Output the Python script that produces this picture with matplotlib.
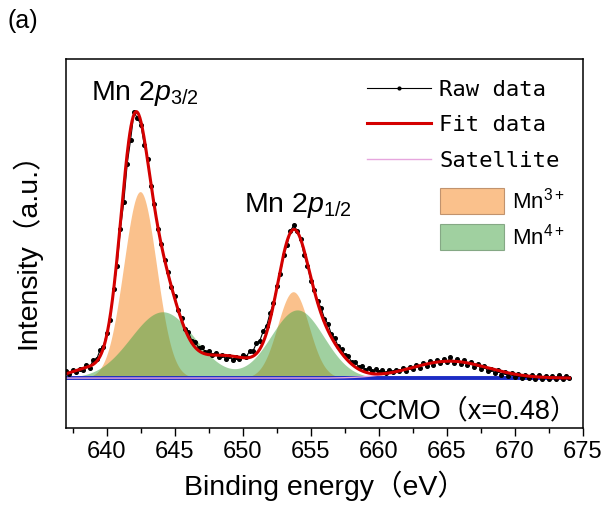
import numpy as np
import matplotlib
matplotlib.use("Agg")
import matplotlib.pyplot as plt
from matplotlib.lines import Line2D
from matplotlib.patches import Patch
from matplotlib.ticker import MultipleLocator

plt.rcParams['font.family'] = ['Liberation Sans', 'Noto Sans CJK JP']
plt.rcParams['mathtext.fontset'] = 'custom'
plt.rcParams['mathtext.rm'] = 'Liberation Sans'
plt.rcParams['mathtext.it'] = 'Liberation Sans:italic'

# raw spectrum, every 0.25 eV from 637.0 eV
energy_start = 637.0
energy_step = 0.25
raw_counts = [
    2.6, 1.4, 3.1, 2.2, 3.6, 3.0, 4.9, 4.0,            # 637
    6.9, 7.1, 10.6, 11.9, 17.2, 22.0, 33.6, 42.4,      # 639
    56.5, 66.8, 81.2, 90.3, 100.6, 98.4, 96.0, 88.3,   # 641
    83.1, 72.9, 66.0, 56.4, 50.8, 44.6, 40.3, 34.6,    # 643
    30.9, 25.6, 22.7, 18.6, 17.3, 14.1, 13.6, 11.5,    # 645
    11.8, 9.7, 10.4, 8.8, 9.6, 7.9, 8.7, 7.2,          # 647
    8.4, 6.8, 8.1, 7.1, 8.8, 8.1, 10.2, 10.3,          # 649
    13.2, 14.2, 17.8, 19.8, 24.7, 28.3, 34.9, 39.4,    # 651
    46.6, 50.5, 55.8, 57.9, 55.6, 52.5, 46.6, 42.6,    # 653
    36.7, 33.5, 29.0, 26.6, 22.5, 20.6, 16.6, 15.1,    # 655
    12.1, 11.0, 8.6, 8.3, 6.0, 6.2, 4.3, 4.7,          # 657
    3.1, 3.8, 2.6, 3.3, 2.2, 3.1, 2.0, 3.2,            # 659
    2.4, 3.2, 2.5, 3.8, 2.7, 4.2, 3.3, 4.9,            # 661
    3.9, 5.6, 4.5, 6.3, 5.1, 7.0, 5.6, 7.3,            # 663
    6.0, 7.8, 5.8, 7.1, 5.5, 6.7, 4.9, 6.0,            # 665
    4.1, 5.2, 3.4, 4.4, 2.6, 3.5, 1.8, 2.9,            # 667
    1.3, 2.3, 0.8, 1.9, 0.4, 1.6, 0.2, 1.3,            # 669
    0.0, 1.1, -0.3, 1.0, -0.4, 0.9, -0.5, 0.8,         # 671
    -0.4, 1.0, -0.3, 0.9, 0.2,                         # 673
]
energy = energy_start + energy_step * np.arange(len(raw_counts))

# fit envelope as gaussian terms (centre eV, height, sigma)
fit_centers = [639.0, 641.95, 643.7, 648.5, 653.6, 655.0, 665.2]
fit_heights = [4.0, 80.0, 40.0, 8.5, 40.0, 20.0, 6.4]
fit_sigmas = [1.5, 1.0, 1.4, 2.5, 1.1, 1.8, 2.8]

# components
mn3_centers = [642.45, 653.7]
mn3_heights = [70.6, 32.7]
mn3_sigmas = [1.2, 1.15]

mn4_centers = [644.1, 654.0]
mn4_heights = [25.1, 25.8]
mn4_sigmas = [2.35, 1.95]

sat_centers = [665.2]
sat_heights = [6.4]
sat_sigmas = [2.8]


def gauss_sum(x, centers, heights, sigmas):
    y = np.zeros_like(x)
    for c, h, s in zip(centers, heights, sigmas):
        y += h * np.exp(-0.5 * ((x - c) / s) ** 2)
    return y


xf = np.linspace(energy[0], energy[-1], 900)
fit = gauss_sum(xf, fit_centers, fit_heights, fit_sigmas)
mn3 = gauss_sum(xf, mn3_centers, mn3_heights, mn3_sigmas)
mn4 = gauss_sum(xf, mn4_centers, mn4_heights, mn4_sigmas)
sat = gauss_sum(xf, sat_centers, sat_heights, sat_sigmas)

orange = (0.97, 0.56, 0.18, 0.55)
green = (0.26, 0.64, 0.26, 0.5)
red = '#d40000'
blue = '#1c2bc4'
pink = '#e6a6de'

fig = plt.figure(figsize=(6.07, 5.2), dpi=100)
ax = fig.add_axes([66 / 607, 1 - 428 / 520, 517 / 607, 369 / 520])

ax.fill_between(xf, mn3, color=orange, lw=0)
ax.fill_between(xf, mn4, color=green, lw=0)
ax.plot(energy, np.zeros_like(energy), color=blue, lw=2.8)
ax.plot(xf, sat, color=pink, lw=1)
ax.plot(energy, raw_counts, color='k', lw=0.8, marker='o', ms=2.6)
ax.plot(xf, fit, color=red, lw=2.2)

ax.set_xlim(637, 675)
ax.set_ylim(-18.9, 120.8)
ax.set_yticks([])
ax.set_xticks(np.arange(640, 676, 5))
ax.xaxis.set_minor_locator(MultipleLocator(2.5))
ax.tick_params(axis='x', which='major', direction='out', length=6, width=1,
               labelsize=17, pad=3)
ax.tick_params(axis='x', which='minor', direction='out', length=3.5, width=1)
for sp in ax.spines.values():
    sp.set_linewidth(1.1)

ax.set_xlabel('Binding energy（eV）', fontsize=20.5, labelpad=6)
ax.set_ylabel('Intensity（a.u.）', fontsize=20.5, labelpad=18)

ax.text(638.85, 105.3, r'Mn 2$p_{3/2}$', fontsize=20.5, va='baseline')
ax.text(650.05, 62.9, r'Mn 2$p_{1/2}$', fontsize=20.5, va='baseline')
ax.text(0.99, 0.027, 'CCMO（x=0.48）', transform=ax.transAxes,
        fontsize=19.5, ha='right', va='baseline')
fig.text(0.013, 0.982, '(a)', fontsize=18, va='top')

line_handles = [
    Line2D([], [], color='k', lw=0.8, marker='o', ms=2),
    Line2D([], [], color=red, lw=2.2),
    Line2D([], [], color=pink, lw=1),
]
leg1 = ax.legend(line_handles, ['Raw data', 'Fit data', 'Satellite'],
                 loc='upper left', bbox_to_anchor=(0.582, 0.944),
                 frameon=False, prop={'family': 'DejaVu Sans Mono', 'size': 16},
                 handlelength=2.9, handletextpad=0.35, labelspacing=0.7,
                 borderpad=0, borderaxespad=0)
ax.add_artist(leg1)

patch_handles = [
    Patch(facecolor=orange, edgecolor=(0.7, 0.5, 0.35, 0.8), lw=0.8),
    Patch(facecolor=green, edgecolor=(0.45, 0.6, 0.45, 0.8), lw=0.8),
]
ax.legend(patch_handles, ['Mn$^{3+}$', 'Mn$^{4+}$'],
          loc='upper left', bbox_to_anchor=(0.723, 0.652),
          frameon=False, prop={'size': 16},
          handlelength=2.9, handleheight=1.45, handletextpad=0.35,
          labelspacing=0.43, borderpad=0, borderaxespad=0)

fig.savefig('out.png', dpi=100)
